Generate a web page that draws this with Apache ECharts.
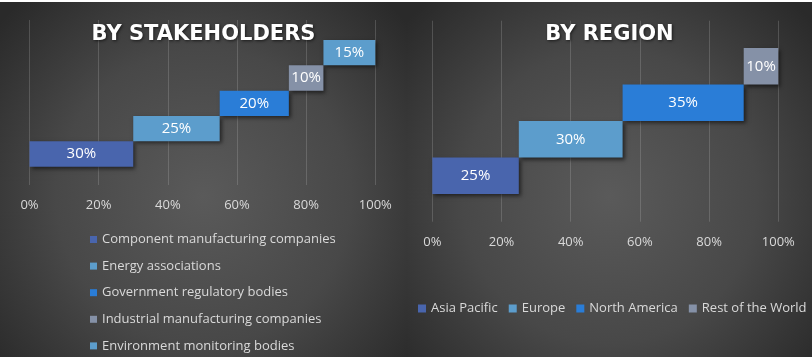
<!DOCTYPE html>
<html>
<head>
<meta charset="utf-8">
<script src="https://cdn.jsdelivr.net/npm/echarts@6/dist/echarts.min.js"></script>
<style>
  html, body { margin: 0; padding: 0; background: #ffffff; }
  #wrap { position: relative; width: 812px; height: 357px; overflow: hidden; }
  #left { position: absolute; left: 0; top: 0; width: 407px; height: 357px; }
  #right { position: absolute; left: 407px; top: 0; width: 405px; height: 357px; }
  #strip { position: absolute; left: 0; top: 0; width: 812px; height: 2px; background: #fff; }
</style>
</head>
<body>
<div id="wrap">
  <div id="left"></div>
  <div id="right"></div>
  <div id="strip"></div>
</div>
<script>
// ---- data ----
const stakeholderTitle = 'BY STAKEHOLDERS';
const stakeholderNames = ['Component manufacturing companies', 'Energy associations', 'Government regulatory bodies', 'Industrial manufacturing companies', 'Environment monitoring bodies'];
const stakeholderValues = [30, 25, 20, 10, 15];
const stakeholderColors = ['#4965AD', '#5C9DCC', '#2A7DD7', '#8591A7', '#5C9DCC'];

const regionTitle = 'BY REGION';
const regionNames = ['Asia Pacific', 'Europe', 'North America', 'Rest of the World'];
const regionValues = [25, 30, 35, 10];
const regionColors = ['#4965AD', '#5C9DCC', '#2A7DD7', '#8591A7'];

const tickValues = [0, 20, 40, 60, 80, 100];
const tickLabels = ['0%', '20%', '40%', '60%', '80%', '100%'];

const FONT = "'Open Sans', 'Noto Sans', sans-serif";

function bg() {
  return new echarts.graphic.RadialGradient(0.5, 0.55, 0.75, [
    { offset: 0, color: '#5a5a5a' },
    { offset: 0.55, color: '#484848' },
    { offset: 1, color: '#2a2a2a' }
  ]);
}

function build(cfg) {
  const offsets = [];
  let acc = 0;
  cfg.values.forEach(v => { offsets.push(acc); acc += v; });
  const series = [{
    name: '__offset',
    type: 'bar',
    xAxisIndex: 1, yAxisIndex: 1,
    stack: 'w',
    silent: true,
    barCategoryGap: '0%',
    itemStyle: { color: 'rgba(0,0,0,0)' },
    data: offsets
  }];
  cfg.names.forEach((nm, i) => {
    series.push({
      name: nm,
      type: 'bar',
      xAxisIndex: 1, yAxisIndex: 1,
      stack: 'w',
      barCategoryGap: '0%',
      itemStyle: {
        color: cfg.colors[i],
        shadowColor: 'rgba(0,0,0,0.55)',
        shadowBlur: 4,
        shadowOffsetX: 2,
        shadowOffsetY: 2
      },
      label: {
        show: true, position: 'inside', color: '#ffffff',
        fontFamily: FONT, fontSize: 15,
        formatter: p => p.value + '%'
      },
      data: cfg.values.map((v, j) => (j === i ? v : '-'))
    });
  });
  return {
    animation: false,
    backgroundColor: bg(),
    title: {
      text: cfg.title,
      left: 'center',
      top: cfg.titleTop,
      textStyle: {
        color: '#ffffff', fontSize: 21, fontWeight: 'bold',
        fontFamily: "'DejaVu Sans', sans-serif",
        textShadowColor: 'rgba(0,0,0,0.6)', textShadowBlur: 3,
        textShadowOffsetX: 1, textShadowOffsetY: 1
      }
    },
    legend: Object.assign({
      data: cfg.names,
      icon: 'rect',
      padding: 0,
      itemWidth: cfg.icon, itemHeight: cfg.icon,
      textStyle: { color: '#d9d9d9', fontSize: 13, fontFamily: FONT }
    }, cfg.legend),
    grid: [cfg.gridA, cfg.gridB],
    xAxis: [{
      gridIndex: 0, type: 'value', min: 0, max: 100, interval: 20,
      axisLine: { show: false }, axisTick: { show: false },
      splitLine: { show: true, lineStyle: { color: 'rgba(200,200,200,0.22)', width: 1 } },
      axisLabel: {
        color: '#d9d9d9', fontSize: 13, fontFamily: FONT, margin: cfg.labelMargin,
        formatter: v => tickLabels[tickValues.indexOf(v)]
      }
    }, {
      gridIndex: 1, type: 'value', min: 0, max: 100, show: false
    }],
    yAxis: [{
      gridIndex: 0, type: 'category', data: ['a'], show: false
    }, {
      gridIndex: 1, type: 'category', data: cfg.names, show: false
    }],
    series: series
  };
}

const left = echarts.init(document.getElementById('left'), null, { renderer: 'canvas' });
left.setOption(build({
  title: stakeholderTitle,
  names: stakeholderNames, values: stakeholderValues, colors: stakeholderColors,
  titleTop: 19,
  icon: 7,
  legend: { orient: 'vertical', left: 90, top: 233, height: 130, width: 310, itemGap: 13.6 },
  gridA: { left: 29.5, right: 31.7, top: 20, bottom: 172 },
  gridB: { left: 29.5, right: 31.7, top: 40, bottom: 190.3 },
  labelMargin: 14
}));

const right = echarts.init(document.getElementById('right'), null, { renderer: 'canvas' });
right.setOption(build({
  title: regionTitle,
  names: regionNames, values: regionValues, colors: regionColors,
  titleTop: 19,
  icon: 8,
  legend: { orient: 'horizontal', left: 11, top: 302, width: 394, itemGap: 11 },
  gridA: { left: 25.3, right: 33.7, top: 20.7, bottom: 135.3 },
  gridB: { left: 25.3, right: 33.7, top: 48, bottom: 163 },
  labelMargin: 14
}));
</script>
</body>
</html>
